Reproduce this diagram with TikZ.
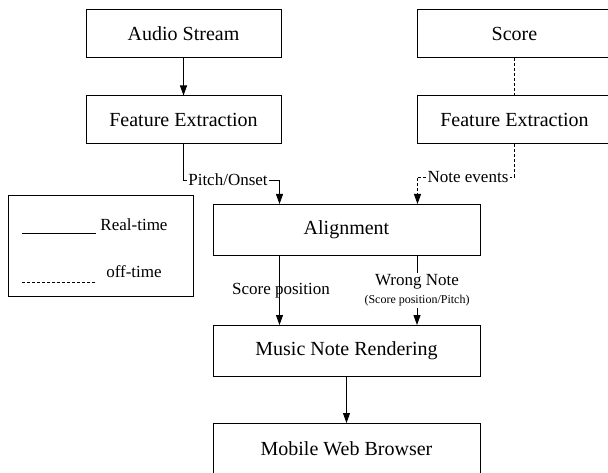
\documentclass[tikz,border=0pt]{standalone}
\usepackage{fontspec}
\setmainfont{Liberation Serif}
\usetikzlibrary{arrows.meta,positioning}

\begin{document}
\begin{tikzpicture}[x=1pt,y=-1pt,>={Triangle[length=10pt,width=7pt]},
  line width=0.9pt,
  bloco/.style={draw,line width=1pt,minimum width=195pt,minimum height=48pt,
    inner sep=0pt,font=\fontsize{20}{24}\selectfont},
  bloco largo/.style={bloco,minimum width=267pt,minimum height=51pt},
  rotulo/.style={inner sep=1pt,font=\fontsize{17}{20}\selectfont},
  rotulo pequeno/.style={inner sep=1pt,font=\fontsize{12}{14}\selectfont},
  offline/.style={dash pattern=on 3pt off 2pt}]
    \useasboundingbox (0,0) rectangle (608,473);

    % blocos: duas colunas em cima, depois o alinhamento
    \node[bloco] (audio) at (183.5,34) {Audio Stream};
    \node[bloco, below=37pt of audio] (featL) {Feature Extraction};
    \node[bloco] (score) at (514.5,34) {Score};
    \node[bloco, below=37pt of score] (featR) {Feature Extraction};
    \node[bloco largo] (align) at (346.5,230) {Alignment};
    \node[bloco largo, below=69pt of align] (render) {Music Note Rendering};
    \node[bloco largo, below=46pt of render] (browser) {Mobile Web Browser};

    % pontos de entrada/saida do alinhamento
    \coordinate (inL) at ([xshift=67pt]align.north west);
    \coordinate (inR) at ([xshift=-63pt]align.north east);

    \draw[->] (audio) -- (featL);
    \draw[offline] (score) -- (featR);

    % tempo real: pitch/onset
    \node[rotulo] (pitch) at (228,180) {Pitch/Onset};
    \draw (featL.south) |- (pitch.west);
    \draw[->] (pitch.east) -| (inL);

    % off-time: eventos da partitura
    \node[rotulo] (notes) at (468,177) {Note events};
    \draw[offline] (featR.south) |- (notes.east);
    \draw[offline,->] (notes.west) -| (inR);

    % saidas do alinhamento
    \node[rotulo, fill=white] (pos) at (281,291) {Score position};
    \draw[->] (align.south -| inL) -- (render.north -| inL);
    \node[rotulo] (wrong) at (417,282) {Wrong Note};
    \node[rotulo pequeno] (wpos) at (417,301) {(Score position/Pitch)};
    \draw (align.south -| wrong) -- (wrong.north);
    \draw[->] (wpos.south) -- (render.north -| wpos);

    \draw[->] (render) -- (browser);

    % legenda
    \draw[line width=1pt] (8,196) rectangle (193,296);
    \node[rotulo] (rt) at (134,225) {Real-time};
    \node[rotulo] (ot) at (134,272) {off-time};
    \draw (22,233) -- (96,233);
    \draw[offline,line width=0.7pt] (22,282) -- (95,282);
\end{tikzpicture}
\end{document}
